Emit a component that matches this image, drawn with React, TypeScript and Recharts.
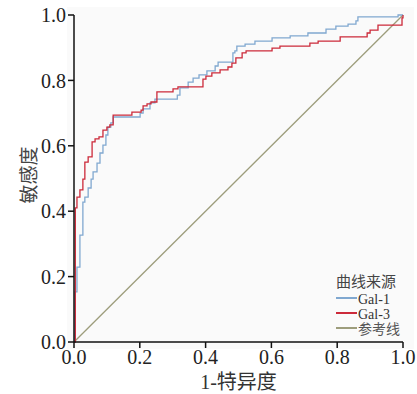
import { Legend, Line, LineChart, XAxis, YAxis } from "recharts";

// ROC 曲线数据：每个点为 (1-特异度, 敏感度)
const gal1Fpr = [
  0, 0.003, 0.009, 0.018, 0.027, 0.033, 0.043, 0.052, 0.058, 0.07, 0.079, 0.088,
  0.097, 0.103, 0.112, 0.119, 0.201, 0.21, 0.231, 0.246, 0.314, 0.322, 0.347,
  0.362, 0.38, 0.404, 0.429, 0.438, 0.483, 0.489, 0.495, 0.52, 0.55, 0.602,
  0.657, 0.711, 0.766, 0.796, 0.833, 0.857, 0.863, 0.985, 1.0,
];
const gal1Tpr = [
  0, 0.153, 0.229, 0.327, 0.428, 0.443, 0.471, 0.498, 0.52, 0.547, 0.578, 0.602,
  0.633, 0.657, 0.67, 0.688, 0.7, 0.713, 0.731, 0.743, 0.755, 0.777, 0.795,
  0.807, 0.817, 0.829, 0.844, 0.856, 0.884, 0.89, 0.905, 0.911, 0.92, 0.93,
  0.936, 0.945, 0.957, 0.966, 0.972, 0.982, 0.994, 1.0, 1.0,
];

const gal3Fpr = [
  0, 0.004, 0.009, 0.018, 0.027, 0.033, 0.043, 0.055, 0.064, 0.076, 0.088, 0.1,
  0.109, 0.119, 0.176, 0.204, 0.21, 0.222, 0.234, 0.252, 0.301, 0.316, 0.392,
  0.401, 0.419, 0.444, 0.468, 0.48, 0.492, 0.511, 0.523, 0.602, 0.626, 0.717,
  0.742, 0.809, 0.891, 0.9, 0.924, 0.997, 1.0,
];
const gal3Tpr = [
  0, 0.41, 0.443, 0.465, 0.498, 0.55, 0.566, 0.612, 0.621, 0.627, 0.648, 0.657,
  0.664, 0.694, 0.703, 0.709, 0.722, 0.728, 0.734, 0.765, 0.774, 0.78, 0.804,
  0.813, 0.823, 0.832, 0.841, 0.853, 0.869, 0.884, 0.89, 0.899, 0.905, 0.914,
  0.92, 0.933, 0.945, 0.954, 0.969, 0.991, 1.0,
];

const refFpr = [0, 1];
const refTpr = [0, 1];

const axisTicks = [0, 0.2, 0.4, 0.6, 0.8, 1.0];

const seriesNames = ["Gal-1", "Gal-3", "参考线"];
const seriesColors = ["#80a8d0", "#cc2a3a", "#9d9d7c"];

const toPoints = (xs: number[], ys: number[]) =>
  xs.map((x, i) => ({ x, y: ys[i] }));

const gal1Data = toPoints(gal1Fpr, gal1Tpr);
const gal3Data = toPoints(gal3Fpr, gal3Tpr);
const refData = toPoints(refFpr, refTpr);

const SERIF = "'Liberation Serif', 'Noto Sans CJK SC', serif";

function LegendBox() {
  return (
    <div style={{ fontFamily: SERIF, color: "#333", lineHeight: "15px" }}>
      <div style={{ fontSize: 15, color: "#444", marginBottom: 2 }}>曲线来源</div>
      {seriesNames.map((name, i) => (
        <div key={name} style={{ display: "flex", alignItems: "center", height: 15 }}>
          <span
            style={{
              display: "inline-block",
              width: 21,
              height: 0,
              borderTop: `2px solid ${seriesColors[i]}`,
              marginRight: 1,
              marginTop: -4,
            }}
          />
          <span style={{ fontSize: 14, color: i === 2 ? "#555" : "#333" }}>{name}</span>
        </div>
      ))}
    </div>
  );
}

export default function App() {
  return (
    <div style={{ position: "absolute", left: 0, top: 0, width: 417, height: 394, background: "#fff" }}>
      <div
        style={{
          position: "absolute",
          left: 67,
          top: 7,
          width: 347,
          height: 342,
          background: "#fafafa",
        }}
      />
      <LineChart
        width={417}
        height={394}
        margin={{ top: 15, right: 14, bottom: 22, left: 0 }}
        style={{ position: "absolute", left: 0, top: 0 }}
      >
        <XAxis
          dataKey="x"
          type="number"
          domain={[0, 1]}
          ticks={axisTicks}
          tickFormatter={(v: number) => v.toFixed(1)}
          tick={{ fontSize: 20, fill: "#222", fontFamily: SERIF }}
          tickSize={6}
          height={30}
          stroke="#111"
          strokeWidth={1.5}
          allowDuplicatedCategory={false}
          label={(props: any) => {
            const vb = props.viewBox;
            return (
              <text
                x={vb.x + vb.width / 2}
                y={382}
                textAnchor="middle"
                dominantBaseline="central"
                fontSize={20}
                fill="#333"
                fontFamily={SERIF}
              >
                1-特异度
              </text>
            );
          }}
        />
        <YAxis
          dataKey="y"
          type="number"
          domain={[0, 1]}
          ticks={axisTicks}
          tickFormatter={(v: number) => v.toFixed(1)}
          tick={{ fontSize: 20, fill: "#222", fontFamily: SERIF }}
          tickSize={6}
          width={74}
          stroke="#111"
          strokeWidth={1.5}
          label={() => (
            <text
              x={29}
              y={175}
              transform="rotate(-90 29 175)"
              textAnchor="middle"
              dominantBaseline="central"
              fontSize={19}
              fill="#444"
              fontFamily={SERIF}
            >
              敏感度
            </text>
          )}
        />
        <Line
          data={refData}
          dataKey="y"
          name={seriesNames[2]}
          type="linear"
          stroke={seriesColors[2]}
          strokeWidth={1.3}
          dot={false}
          activeDot={false}
          isAnimationActive={false}
        />
        <Line
          data={gal1Data}
          dataKey="y"
          name={seriesNames[0]}
          type="stepAfter"
          stroke={seriesColors[0]}
          strokeWidth={1.3}
          dot={false}
          activeDot={false}
          isAnimationActive={false}
        />
        <Line
          data={gal3Data}
          dataKey="y"
          name={seriesNames[1]}
          type="stepAfter"
          stroke={seriesColors[1]}
          strokeWidth={1.3}
          dot={false}
          activeDot={false}
          isAnimationActive={false}
        />
        <Legend
          layout="vertical"
          align="center"
          verticalAlign="middle"
          content={() => <LegendBox />}
          wrapperStyle={{ left: 336, top: 275 }}
        />
      </LineChart>
    </div>
  );
}
